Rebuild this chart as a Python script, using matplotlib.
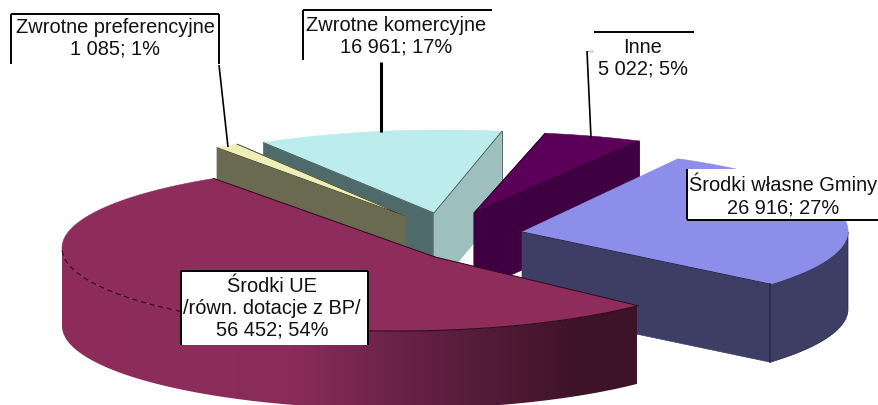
import numpy as np
import matplotlib
matplotlib.use("Agg")
import matplotlib.pyplot as plt
from matplotlib.colors import LinearSegmentedColormap
from matplotlib.patches import Polygon, Rectangle

# ---- data ----
categories = ["Zwrotne komercyjne", "Zwrotne preferencyjne", "Inne", "Środki własne Gminy", "Środki UE"]
values = [16961, 1085, 5022, 26916, 56452]
value_labels = ["16 961", "1 085", "5 022", "26 916", "56 452"]
percents = [17, 1, 5, 27, 54]
label_names = ["Zwrotne komercyjne", "Zwrotne preferencyjne", "Inne", "Środki własne Gminy", "Środki UE\n/równ. dotacje z BP/"]

# ---- layout / perspective fit of the 3-D pie, in image pixels ----
RX, RY, DEPTH = 335, 83, 78
centres = [(441, 213), (418.6, 214), (487, 215), (513, 231), (397, 248)]
apexes = [(434, 213), (405, 216), (474, 213), (522, 232), (435, 257)]
start_angles = [122, 127, 80, 60.5, -44]
stretch = [0.74, 1.15, 1.0, 1.102, 1.01]
top_colors = ["#bcecec", "#eeeeb8", "#5a0058", "#8d8dea", "#8e2d5c"]
left_face = ["#4f6a6b", "#6a6a50", "#3e0040", "#3d3d66", "#8e2d5c"]
right_face = ["#9dbfbd", "#6a6a50", "#3e0040", "#3d3d66", "#3e1328"]
has_rim = [False, False, False, True, True]
edge_colors = ["#3c5050", "#3a3a28", "#280028", "#25253f", "#2e0a1c"]

label_xy = [(115, 38), (396, 36), (643, 58), (783, 195), (272, 308)]
label_order = [1, 0, 2, 3, 4]
FS = 14.4

plt.rcParams["font.family"] = ["Liberation Sans", "DejaVu Sans"]
fig = plt.figure(figsize=(8.79, 4.05), dpi=100)
ax = fig.add_axes([0, 0, 1, 1])
ax.set_xlim(0, 879)
ax.set_ylim(405, 0)
ax.axis("off")

total = sum(values)
z = 1
maroon_cmap = LinearSegmentedColormap.from_list(
    "m", [(0, "#8e2d5c"), (0.4, "#8a2c5a"), (0.65, "#5f1f42"), (0.9, "#3e1328"), (1, "#3e1328")])

for i, v in enumerate(values):
    span = v / total * 360 * stretch[i]
    phi = np.radians(np.linspace(start_angles[i], start_angles[i] - span, 200))
    cx, cy = centres[i]
    arc = np.column_stack([cx + RX * np.cos(phi), cy - RY * np.sin(phi)])
    apex = np.array(apexes[i], float)
    drop = np.array([0, DEPTH])
    ec = edge_colors[i]
    # cut faces
    if i != 4:
        faces = [(arc[-1], right_face[i])] if i == 3 else [(arc[0], left_face[i]), (arc[-1], right_face[i])]
        for end, col in faces:
            quad = np.array([apex, end, end + drop, apex + drop])
            ax.add_patch(Polygon(quad, closed=True, fc=col, ec=col, lw=0.5, zorder=z))
            z += 1
    # outer rim: only the part of the arc that faces the viewer
    if has_rim[i]:
        front = arc[(phi <= 0) & (phi >= -np.pi)]
        rim = np.vstack([front, (front + drop)[::-1]])
        if i == 3:
            ax.add_patch(Polygon(rim, closed=True, fc=right_face[i], ec=ec, lw=0.5, zorder=z))
        else:
            im = ax.imshow(np.linspace(0, 1, 256)[None, :], cmap=maroon_cmap, aspect="auto",
                           extent=[62, 636.5, 405, 150], zorder=z)
            im.set_clip_path(Polygon(rim, closed=True, transform=ax.transData))
            ax.set_xlim(0, 879)
            ax.set_ylim(405, 0)
    z += 2
    # top
    top = np.vstack([apex, arc])
    ax.add_patch(Polygon(top, closed=True, fc=top_colors[i], ec=top_colors[i], lw=0.4, zorder=z))
    z += 1
    # dark seams along the near edges
    if i == 4:
        near = arc[phi > np.radians(-180)]
        right = near[near[:, 0] >= 175]
        left = near[near[:, 0] < 175]
        ax.plot(right[:, 0], right[:, 1], color=ec, lw=0.8, zorder=z)
        ax.plot(left[:, 0], left[:, 1], color=ec, lw=0.8, ls=(0, (5, 3)), zorder=z)
        ax.plot([apex[0], arc[0, 0]], [apex[1], arc[0, 1]], color=ec, lw=0.7, zorder=z)
        ax.plot([arc[-1, 0], apex[0]], [arc[-1, 1], apex[1]], color=ec, lw=0.7, zorder=z)
    elif i == 3:
        ax.plot([apex[0], arc[-1, 0]], [apex[1], arc[-1, 1]], color=ec, lw=0.7, zorder=z)
        ax.plot([arc[-1, 0], arc[-1, 0]], [arc[-1, 1], arc[-1, 1] + DEPTH], color="#2a2a4c", lw=1.2, zorder=z)
    else:
        ax.plot([arc[0, 0], apex[0], arc[-1, 0]], [arc[0, 1], apex[1], arc[-1, 1]], color=ec, lw=0.6, zorder=z)
        if i != 1:
            ax.plot([arc[-1, 0], arc[-1, 0]], [arc[-1, 1], arc[-1, 1] + DEPTH], color=ec, lw=0.6, zorder=z)
    z += 1

Z = 200
LW = 1.4
def line(xs, ys, lw=LW, color="black"):
    ax.plot(xs, ys, color=color, lw=lw, zorder=Z + 1, solid_capstyle="butt")

# label boxes, partly drawn as in the source
ax.add_patch(Rectangle((687, 169), 192, 51, fc="white", ec="none", zorder=Z))
line([687, 687], [169, 220]); line([687, 879], [220, 220])
ax.add_patch(Rectangle((181, 271), 187, 74, fc="white", ec="none", zorder=Z))
line([181, 181], [271, 345]); line([368, 368], [271, 345]); line([181, 368], [271, 271])
ax.add_patch(Rectangle((11, 14), 208, 50, fc="white", ec="none", zorder=Z))
line([11, 219], [14, 14]); line([11, 11], [14, 64]); line([219, 219], [14, 64])
line([219, 228], [65, 147], lw=1.2)
line([303, 492], [10, 10]); line([303, 303], [10, 60])
line([381, 381], [62, 132], lw=2.2)
line([594, 694], [32, 32])
line([587, 593], [51, 51], lw=1, color="#bbbbbb")
line([587, 591], [51, 138], lw=1.2)

for k, (x, y) in zip(label_order, label_xy):
    ax.text(x, y, f"{label_names[k]}\n{value_labels[k]}; {percents[k]}%", ha="center", va="center",
            fontsize=FS, color="#111111", zorder=Z + 2, linespacing=1.18)

fig.savefig("out.png", dpi=100)
